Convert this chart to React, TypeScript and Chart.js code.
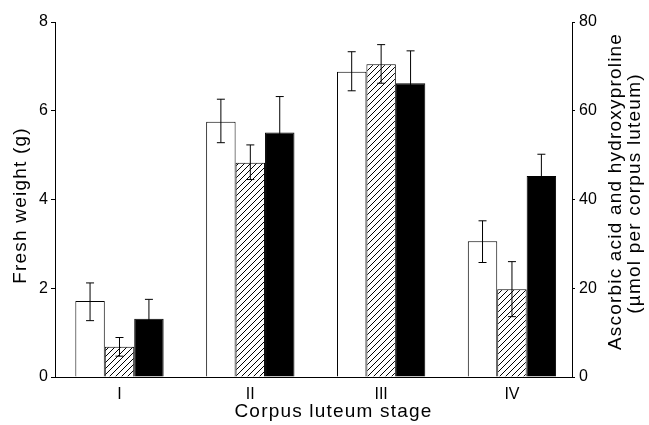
import React, { useEffect, useRef } from "react";
import { Chart, registerables } from "chart.js";

Chart.register(...registerables);

const categories = ["I", "II", "III", "IV"];
// Fresh weight (g) - left axis (open bars)
const freshWeight = [1.71, 5.75, 6.88, 3.06];
const freshWeightLow = [1.27, 5.28, 6.45, 2.58];
const freshWeightHigh = [2.12, 6.26, 7.33, 3.52];
// Ascorbic acid (µmol) - right axis (hatched bars)
const ascorbic = [6.8, 48.3, 70.5, 19.8];
const ascorbicLow = [4.7, 44.5, 66.2, 13.6];
const ascorbicHigh = [8.9, 52.3, 74.9, 26.0];
// Hydroxyproline (µmol) - right axis (black bars)
const hydroxy = [13.1, 55.1, 66.2, 45.3];
const hydroxyLow = [8.7, 47.0, 58.9, 40.4];
const hydroxyHigh = [17.5, 63.2, 73.5, 50.2];

const leftTicks = [0, 2, 4, 6, 8];
const rightTicks = [0, 20, 40, 60, 80];

const FONT = "'Liberation Sans', Arial, Helvetica, sans-serif";

function makeHatch(): CanvasPattern | string {
  const c = document.createElement("canvas");
  const s = 6;
  c.width = s;
  c.height = s;
  const g = c.getContext("2d");
  if (!g) return "#fff";
  g.fillStyle = "#fff";
  g.fillRect(0, 0, s, s);
  g.strokeStyle = "#000";
  g.lineWidth = 1;
  g.beginPath();
  g.moveTo(-1, s + 1);
  g.lineTo(s + 1, -1);
  g.moveTo(-1, 1);
  g.lineTo(1, -1);
  g.moveTo(s - 1, s + 1);
  g.lineTo(s + 1, s - 1);
  g.stroke();
  const p = g.createPattern(c, "repeat");
  return p || "#fff";
}

const errorBarPlugin = {
  id: "errorBars",
  afterDatasetsDraw(chart: any) {
    const ctx = chart.ctx;
    chart.data.datasets.forEach((ds: any, i: number) => {
      const meta = chart.getDatasetMeta(i);
      const yScale = chart.scales[meta.yAxisID];
      meta.data.forEach((el: any, j: number) => {
        const x = el.x;
        const yLo = yScale.getPixelForValue(ds.errLow[j]);
        const yHi = yScale.getPixelForValue(ds.errHigh[j]);
        const cap = 4;
        ctx.save();
        ctx.strokeStyle = "#000";
        ctx.lineWidth = 1;
        ctx.beginPath();
        ctx.moveTo(x, yLo);
        ctx.lineTo(x, yHi);
        ctx.moveTo(x - cap, yHi);
        ctx.lineTo(x + cap, yHi);
        ctx.moveTo(x - cap, yLo);
        ctx.lineTo(x + cap, yLo);
        ctx.stroke();
        ctx.restore();
      });
    });
  },
};

const titlesPlugin = {
  id: "customTitles",
  afterDraw(chart: any) {
    const ctx = chart.ctx;
    const a = chart.chartArea;
    const midY = (a.top + a.bottom) / 2;
    ctx.save();
    ctx.fillStyle = "#000";
    ctx.font = `19px ${FONT}`;
    (ctx as any).letterSpacing = "1.2px";
    ctx.textAlign = "center";
    ctx.textBaseline = "middle";
    ctx.save();
    ctx.translate(a.left - 34, midY + 6);
    ctx.rotate(-Math.PI / 2);
    ctx.fillText("Fresh weight (g)", 0, 0);
    ctx.restore();
    ctx.save();
    ctx.translate(a.right + 44, midY - 8);
    ctx.rotate(-Math.PI / 2);
    ctx.fillText("Ascorbic acid and hydroxyproline", 0, 0);
    ctx.restore();
    ctx.save();
    ctx.translate(a.right + 63, midY - 6);
    ctx.rotate(-Math.PI / 2);
    ctx.fillText("(\u00b5mol per corpus luteum)", 0, 0);
    ctx.restore();
    ctx.fillText("Corpus luteum stage", (a.left + a.right) / 2 + 20, a.bottom + 35);
    (ctx as any).letterSpacing = "0px";
    ctx.restore();
  },
};

export default function App() {
  const ref = useRef<HTMLCanvasElement>(null);

  useEffect(() => {
    if (!ref.current) return;
    const hatch = makeHatch();
    const pts = (vals: number[]) => vals.map((v, i) => ({ x: i, y: v }));
    const common = { categoryPercentage: 0.675, barPercentage: 1, borderColor: "#000", borderWidth: 1 };
    const chart = new Chart(ref.current, {
      type: "bar",
      data: {
        datasets: [
          {
            label: "Fresh weight",
            data: pts(freshWeight),
            errLow: freshWeightLow,
            errHigh: freshWeightHigh,
            yAxisID: "y",
            backgroundColor: "#fff",
            ...common,
          } as any,
          {
            label: "Ascorbic acid",
            data: pts(ascorbic),
            errLow: ascorbicLow,
            errHigh: ascorbicHigh,
            yAxisID: "y1",
            backgroundColor: hatch,
            ...common,
          } as any,
          {
            label: "Hydroxyproline",
            data: pts(hydroxy),
            errLow: hydroxyLow,
            errHigh: hydroxyHigh,
            yAxisID: "y1",
            backgroundColor: "#000",
            ...common,
          } as any,
        ],
      },
      options: {
        responsive: false,
        animation: false,
        layout: { padding: { top: 22, left: 0, right: 0, bottom: 0 } },
        plugins: {
          legend: { display: false },
          tooltip: { enabled: false },
          title: { display: false },
        },
        scales: {
          x: {
            type: "linear",
            offset: false,
            min: -0.493,
            max: 3.459,
            afterBuildTicks(scale: any) {
              scale.ticks = categories.map((_, i) => ({ value: i }));
            },
            grid: { display: false },
            border: { display: true, color: "#000", width: 1 },
            ticks: {
              color: "#000",
              font: { family: FONT, size: 16 },
              padding: 0,
              callback: (v: any) => categories[Math.round(Number(v))] ?? "",
            },
            afterFit(scale: any) {
              scale.height = 48;
            },
          },
          y: {
            position: "left",
            min: 0,
            max: 8,
            afterBuildTicks(scale: any) {
              scale.ticks = leftTicks.map((v) => ({ value: v }));
            },
            grid: {
              drawOnChartArea: false,
              drawTicks: true,
              tickLength: 4,
              color: "#000",
            },
            border: { display: true, color: "#000", width: 1 },
            ticks: {
              color: "#000",
              font: { family: FONT, size: 16 },
              padding: 3,
            },
            afterFit(scale: any) {
              scale.width = 55;
            },
          },
          y1: {
            position: "right",
            min: 0,
            max: 80,
            afterBuildTicks(scale: any) {
              scale.ticks = rightTicks.map((v) => ({ value: v }));
            },
            grid: {
              drawOnChartArea: false,
              drawTicks: true,
              tickLength: 3,
              color: "#000",
            },
            border: { display: true, color: "#000", width: 1 },
            ticks: {
              color: "#000",
              font: { family: FONT, size: 16 },
              padding: 4,
            },
            afterFit(scale: any) {
              scale.width = 77;
            },
          },
        },
      } as any,
      plugins: [errorBarPlugin, titlesPlugin],
    });
    return () => chart.destroy();
  }, []);

  return (
    <div style={{ position: "absolute", left: 0, top: 0, width: 649, height: 425, background: "#fff" }}>
      <canvas ref={ref} width={649} height={425} />
    </div>
  );
}
